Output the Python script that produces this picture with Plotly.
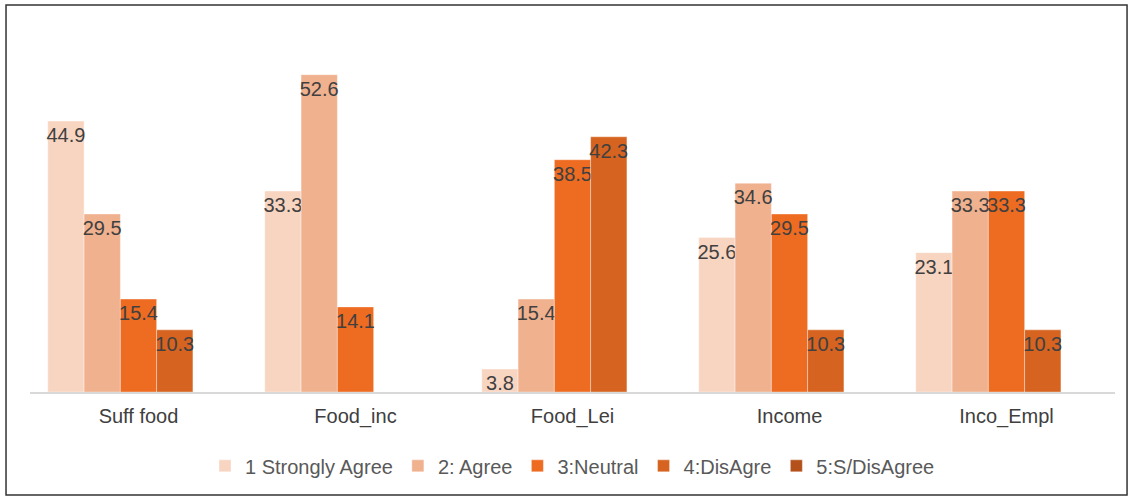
import plotly.graph_objects as go

categories = ["Suff food", "Food_inc", "Food_Lei", "Income", "Inco_Empl"]
series_names = ["1 Strongly Agree", "2: Agree", "3:Neutral", "4:DisAgre", "5:S/DisAgree"]
s1_strongly_agree = [44.9, 33.3, 3.8, 25.6, 23.1]
s2_agree = [29.5, 52.6, 15.4, 34.6, 33.3]
s3_neutral = [15.4, 14.1, 38.5, 29.5, 33.3]
s4_disagree = [10.3, None, 42.3, 10.3, 10.3]
s5_s_disagree = [None, None, None, None, None]

series_values = [s1_strongly_agree, s2_agree, s3_neutral, s4_disagree, s5_s_disagree]
colors = ["#F8D5C1", "#F0B18F", "#EE6B22", "#D6631F", "#B4511B"]

fig = go.Figure()
for name, vals, col in zip(series_names, series_values, colors):
    fig.add_trace(go.Bar(
        x=categories, y=vals, name=name,
        marker=dict(color=col, line=dict(width=0.8, color="rgba(255,255,255,0.45)")),
        text=[None if v is None else f"{v:.1f}" for v in vals],
        textposition="inside", insidetextanchor="end", textangle=0,
        constraintext="none",
        textfont=dict(family="Liberation Sans, Arial, sans-serif", size=20, color="#404040"),
        cliponaxis=False,
    ))

fig.update_layout(
    width=1132, height=499,
    barmode="group", bargap=0.164, bargroupgap=0,
    paper_bgcolor="white", plot_bgcolor="white",
    margin=dict(l=30, r=17, t=30, b=107),
    font=dict(family="Liberation Sans, Arial, sans-serif", size=20, color="#404040"),
    showlegend=True,
    legend=dict(orientation="h", x=0.5, xanchor="center", y=-0.204, yanchor="middle",
                font=dict(size=20, color="#595959"), itemclick=False,
                traceorder="normal"),
    xaxis=dict(showline=True, linecolor="#D9D9D9", linewidth=1.5, ticks="",
               tickfont=dict(size=20, color="#404040"), ticklabelstandoff=5,
               showgrid=False, zeroline=False),
    yaxis=dict(range=[0, 60], visible=False, showgrid=False, zeroline=False),
    shapes=[dict(type="rect", xref="paper", yref="paper",
                 x0=-0.0221, x1=1.0111, y0=-0.2845, y1=1.069,
                 line=dict(color="#333333", width=1.5), fillcolor="rgba(0,0,0,0)",
                 layer="below")],
)

fig.write_html("out.html", config={"displayModeBar": False},
               post_script="document.body.style.margin='0';")
